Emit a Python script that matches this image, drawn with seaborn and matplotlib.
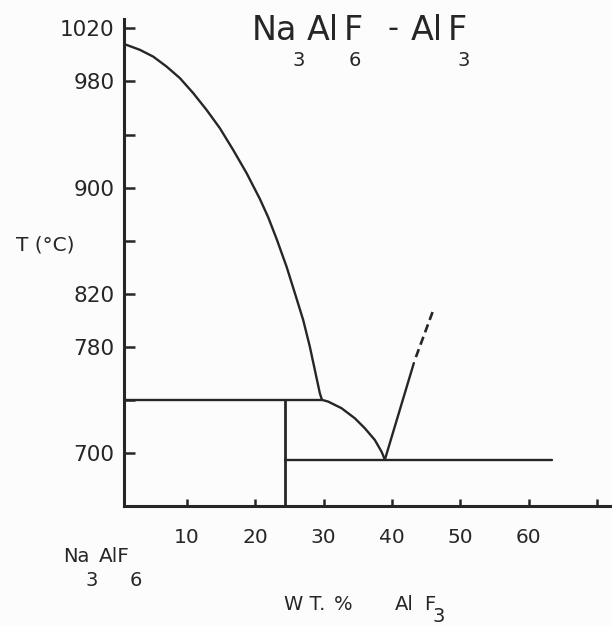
import matplotlib
matplotlib.use("Agg")
import matplotlib.pyplot as plt
import seaborn as sns
import pandas as pd

# ---- data ----
liq_left_x = [0.8, 1.16, 3.10, 5.05, 7.01, 8.96, 10.91, 12.86, 14.81, 16.75, 18.72,
              20.67, 21.88, 23.11, 24.57, 25.79, 27.0, 27.98, 28.71, 29.44, 29.75]
liq_left_t = [1008.0, 1007.5, 1003.8, 998.7, 991.2, 982.5, 971.2, 958.6, 944.8, 928.5, 911.0,
              891.5, 877.8, 861.5, 840.6, 820.6, 800.5, 780.3, 762.8, 745.3, 740.3]

liq_mid_x = [29.75, 30.66, 32.62, 34.57, 36.03, 37.49, 38.47, 38.96]
liq_mid_t = [740.3, 739.0, 734.0, 726.4, 718.9, 710.1, 701.3, 695.3]

liq_right_x = [38.96, 43.2]
liq_right_t = [695.3, 768.0]
liq_dash_x = [43.5, 45.96]
liq_dash_t = [772.5, 806.7]

perit_x = [0.8, 29.75]
perit_t = [740.3, 740.3]
eut_x = [24.32, 63.35]
eut_t = [695.3, 695.3]
chiolite_x = [24.32, 24.32]
chiolite_t = [660.4, 740.3]

y_ticks = [700, 740, 780, 820, 860, 900, 940, 980, 1020]
y_labels = ["700", "", "780", "820", "", "900", "", "980", "1020"]
x_ticks = [10, 20, 30, 40, 50, 60, 70]
x_labels = ["10", "20", "30", "40", "50", "60", ""]

# ---- figure ----
sns.set_theme(style="white")
plt.rcParams["font.family"] = ["DejaVu Sans"]

W, H = 612, 626
fig = plt.figure(figsize=(W / 100, H / 100), dpi=100)
fig.patch.set_facecolor("#fcfcfc")
ax = fig.add_axes([124 / W, 1 - 506 / H, 1 - 124 / W, (506 - 19) / H])
ax.set_facecolor("#fcfcfc")

ink = "#262626"
lw = 1.7

def seg(x, t, **kw):
    df = pd.DataFrame({"x": x, "t": t})
    sns.lineplot(data=df, x="x", y="t", sort=False, estimator=None,
                 color=ink, linewidth=kw.pop("lw", lw), ax=ax, **kw)

seg(liq_left_x, liq_left_t)
seg(liq_mid_x, liq_mid_t)
seg(liq_right_x, liq_right_t)
seg(liq_dash_x, liq_dash_t, dashes=(3.2, 1.8), lw=1.9)
seg(perit_x, perit_t)
seg(eut_x, eut_t)
seg(chiolite_x, chiolite_t, lw=2.0)

ax.set_xlim(0.78, 72.2)
ax.set_ylim(660.4, 1027)

for s in ["top", "right"]:
    ax.spines[s].set_visible(False)
for s in ["left", "bottom"]:
    ax.spines[s].set_linewidth(2.2)
    ax.spines[s].set_color(ink)

ax.set_yticks(y_ticks)
ax.set_yticklabels(y_labels)
ax.set_xticks(x_ticks)
ax.set_xticklabels(x_labels)
ax.tick_params(axis="y", direction="in", length=8, width=1.8, color=ink,
               pad=7, labelsize=15.5, labelcolor=ink, left=True)
ax.tick_params(axis="x", direction="in", length=5, width=1.8, color=ink,
               pad=16, labelsize=14.5, labelcolor=ink, bottom=True)
ax.set_xlabel("")
ax.set_ylabel("")

def ftxt(px, py, s, size, ha="center", va="center"):
    fig.text(px / W, 1 - py / H, s, fontsize=size, ha=ha, va=va, color=ink)

# title NaAlF - AlF with low subscripts
ftxt(252, 31, "Na", 24, ha="left")
ftxt(307, 31, "Al", 24, ha="left")
ftxt(344, 31, "F", 24, ha="left")
ftxt(299, 61, "3", 14)
ftxt(355, 61, "6", 14)
ftxt(393, 29, "-", 22)
ftxt(411, 31, "Al", 24, ha="left")
ftxt(448, 31, "F", 24, ha="left")
ftxt(464, 61, "3", 14)

# y label
ftxt(45, 245, "T (°C)", 14.5)

# bottom-left component
ftxt(63, 557, "Na", 14, ha="left")
ftxt(99, 557, "AlF", 14.5, ha="left")
ftxt(92, 580, "3", 14)
ftxt(136, 580, "6", 14)

# x label
ftxt(325, 604, "W T.", 14, ha="right")
ftxt(343, 604, "%", 14)
ftxt(395, 604, "Al", 14, ha="left")
ftxt(424, 604, "F", 14, ha="left")
ftxt(439, 617, "3", 14)

fig.savefig("out.png", dpi=100, facecolor=fig.get_facecolor())
